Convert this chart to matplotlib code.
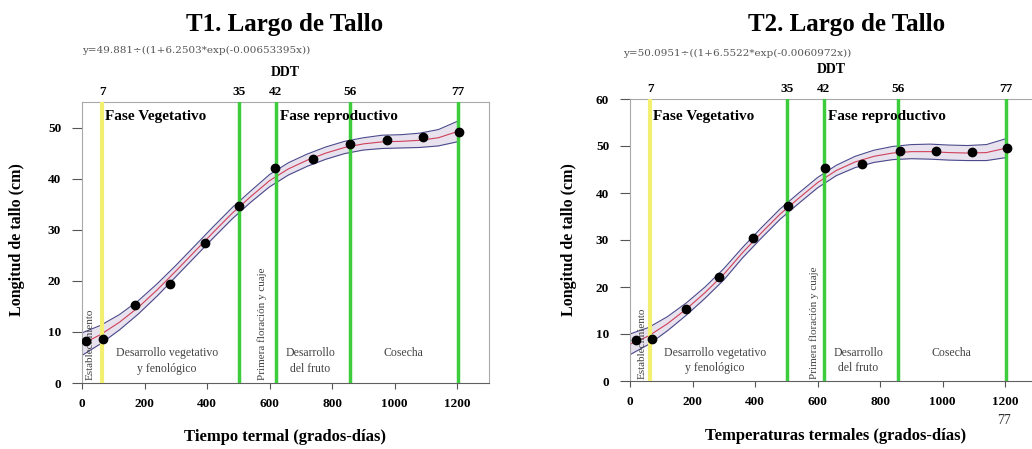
import numpy as np
import matplotlib
matplotlib.use("Agg")
import matplotlib.pyplot as plt

# ---- data ----
# observed stem length (cm) vs thermal time (degree-days)
t1_x = [13, 67, 170, 282, 394, 502, 618, 740, 856, 975, 1090, 1205]
t1_y = [8.2, 8.7, 15.2, 19.4, 27.5, 34.6, 42.1, 43.8, 46.7, 47.6, 48.1, 49.1]
t2_x = [18, 70, 178, 285, 394, 506, 624, 742, 864, 979, 1094, 1206]
t2_y = [8.8, 8.9, 15.3, 22.1, 30.4, 37.3, 45.4, 46.1, 48.9, 48.9, 48.8, 49.5]

# fitted curve with its band, read at these thermal times
curve_x = [0, 60, 120, 180, 240, 300, 360, 420, 480, 540, 600, 660,
           720, 780, 840, 900, 960, 1020, 1080, 1140, 1200]
t1_fit = [7.6, 9.5, 11.9, 14.8, 18.2, 21.9, 25.7, 29.5, 33.2, 36.5, 39.6, 41.9,
          43.6, 45.0, 46.1, 46.8, 47.2, 47.3, 47.5, 48.0, 49.2]
t1_up = [9.8, 11.3, 13.4, 16.1, 19.4, 23.0, 26.8, 30.6, 34.3, 37.6, 40.8, 43.1,
         44.8, 46.2, 47.3, 48.0, 48.5, 48.6, 48.9, 49.6, 51.2]
t1_lo = [5.4, 7.7, 10.4, 13.5, 17.0, 20.8, 24.6, 28.4, 32.1, 35.4, 38.4, 40.7,
         42.4, 43.8, 44.9, 45.6, 45.9, 46.0, 46.1, 46.4, 47.2]
t2_fit = [7.8, 9.6, 12.2, 15.3, 18.8, 22.7, 27.3, 31.5, 35.5, 38.9, 42.2, 44.8,
          46.6, 47.8, 48.5, 48.8, 48.8, 48.6, 48.5, 48.6, 49.5]
t2_up = [10.0, 11.4, 13.7, 16.6, 20.0, 23.9, 28.4, 32.6, 36.6, 40.0, 43.3, 45.9,
         47.8, 49.1, 49.9, 50.3, 50.4, 50.2, 50.1, 50.3, 51.5]
t2_lo = [5.6, 7.8, 10.7, 14.0, 17.6, 21.5, 26.2, 30.4, 34.4, 37.8, 41.1, 43.7,
         45.4, 46.5, 47.1, 47.3, 47.2, 47.0, 46.9, 46.9, 47.5]

# phenological stage lines (degree-days) and days after transplant
stage_x = [65, 502, 620, 857, 1203]
stage_ddt = ["7", "35", "42", "56", "77"]
x_ticks = [0, 200, 400, 600, 800, 1000, 1200]

plt.rcParams['font.family'] = ['Liberation Serif', 'DejaVu Serif']

W, H = 1032, 449
fig = plt.figure(figsize=(W / 100, H / 100), dpi=100)


def fx(px):
    return px / W


def fy(py):
    return 1 - py / H


def draw_panel(rect, xs, ys, fit, up, lo, xmax, ymax, yticks, frame_right,
               est_x, flor_x, fase_y):
    ax = fig.add_axes(rect)
    ax.set_xlim(0, xmax)
    ax.set_ylim(0, ymax)

    ax.fill_between(curve_x, lo, up, color='#e8e2ee', lw=0, zorder=1)
    ax.plot(curve_x, up, color='#4a4a8c', lw=0.8, zorder=2)
    ax.plot(curve_x, lo, color='#4a4a8c', lw=0.8, zorder=2)
    ax.plot(curve_x, fit, color='#d0405a', lw=0.8, zorder=2)

    ax.axvline(stage_x[0], color='#f3ef70', lw=3, zorder=3)
    for s in stage_x[1:]:
        ax.axvline(s, color='#3ccc3c', lw=2.5, zorder=3)

    ax.plot(xs, ys, 'o', color='black', ms=6, zorder=5)

    # stage annotations
    ax.text(75, fase_y, "Fase Vegetativo", fontsize=11, fontweight='bold',
            va='center', ha='left', zorder=6)
    ax.text(635, fase_y, "Fase reproductivo", fontsize=11, fontweight='bold',
            va='center', ha='left', zorder=6)
    ax.text(272, 5.9, "Desarrollo vegetativo", fontsize=8.5, color='#444444',
            ha='center', va='center')
    ax.text(272, 2.7, "y fenológico", fontsize=8.5, color='#444444',
            ha='center', va='center')
    ax.text(730, 5.9, "Desarrollo", fontsize=8.5, color='#444444',
            ha='center', va='center')
    ax.text(730, 2.7, "del fruto", fontsize=8.5, color='#444444',
            ha='center', va='center')
    ax.text(1027, 5.9, "Cosecha", fontsize=8.5, color='#444444',
            ha='center', va='center')
    ax.text(est_x, 0.5, "Establecimiento", fontsize=8, color='#444444',
            rotation=90, ha='center', va='bottom')
    ax.text(flor_x, 0.5, "Primera floración y cuaje", fontsize=8,
            color='#444444', rotation=90, ha='center', va='bottom')

    ax.set_xticks(x_ticks)
    ax.set_yticks(yticks)
    ax.tick_params(axis='x', direction='out', length=4, pad=7, labelsize=9.5,
                   color='#555555')
    ax.tick_params(axis='y', direction='out', length=7, pad=8, labelsize=9.5,
                   color='#555555')
    for lab in ax.get_xticklabels() + ax.get_yticklabels():
        lab.set_fontweight('bold')
    for side in ['top', 'right', 'left', 'bottom']:
        ax.spines[side].set_color('#a8a8a8')
    ax.spines['bottom'].set_color('#606060')
    ax.spines['right'].set_visible(frame_right)

    top = ax.twiny()
    top.set_xlim(ax.get_xlim())
    top.set_xticks(stage_x)
    top.set_xticklabels(stage_ddt, fontweight='bold', fontsize=9.5)
    top.tick_params(axis='x', length=0, pad=3)
    for side in top.spines:
        top.spines[side].set_visible(False)
    top.set_xlabel("DDT", fontweight='bold', fontsize=10, labelpad=7)
    return ax


# T1 panel
draw_panel([fx(82), fy(383), fx(489) - fx(82), fy(102) - fy(383)],
           t1_x, t1_y, t1_fit, t1_up, t1_lo, 1302, 55, range(0, 51, 10),
           True, 26, 576, 52.2)
# T2 panel
draw_panel([fx(630), fy(381), 1 - fx(630), fy(99) - fy(381)],
           t2_x, t2_y, t2_fit, t2_up, t2_lo, 1286, 60, range(0, 61, 10),
           False, 38, 589, 56.2)

fig.text(fx(285), fy(24), "T1. Largo de Tallo", fontsize=18,
         fontweight='bold', ha='center', va='center')
fig.text(fx(847), fy(24), "T2. Largo de Tallo", fontsize=18,
         fontweight='bold', ha='center', va='center')
fig.text(fx(82), fy(50), "y=49.881÷((1+6.2503*exp(-0.00653395x))",
         fontsize=7.5, color='#555555', ha='left', va='center',
         family='DejaVu Serif')
fig.text(fx(623), fy(53), "y=50.0951÷((1+6.5522*exp(-0.0060972x))",
         fontsize=7.5, color='#555555', ha='left', va='center',
         family='DejaVu Serif')

fig.text(fx(285), fy(437), "Tiempo termal (grados-días)", fontsize=12,
         fontweight='bold', ha='center', va='center')
fig.text(fx(836), fy(436), "Temperaturas termales (grados-días)",
         fontsize=12, fontweight='bold', ha='center', va='center')
fig.text(fx(17), fy(240), "Longitud de tallo (cm)", fontsize=11.5,
         fontweight='bold', rotation=90, ha='center', va='center')
fig.text(fx(569), fy(240), "Longitud de tallo (cm)", fontsize=11.5,
         fontweight='bold', rotation=90, ha='center', va='center')
fig.text(fx(1004), fy(421), "77", fontsize=10, color='#333333',
         ha='center', va='center')

fig.savefig("out.png", dpi=100)
